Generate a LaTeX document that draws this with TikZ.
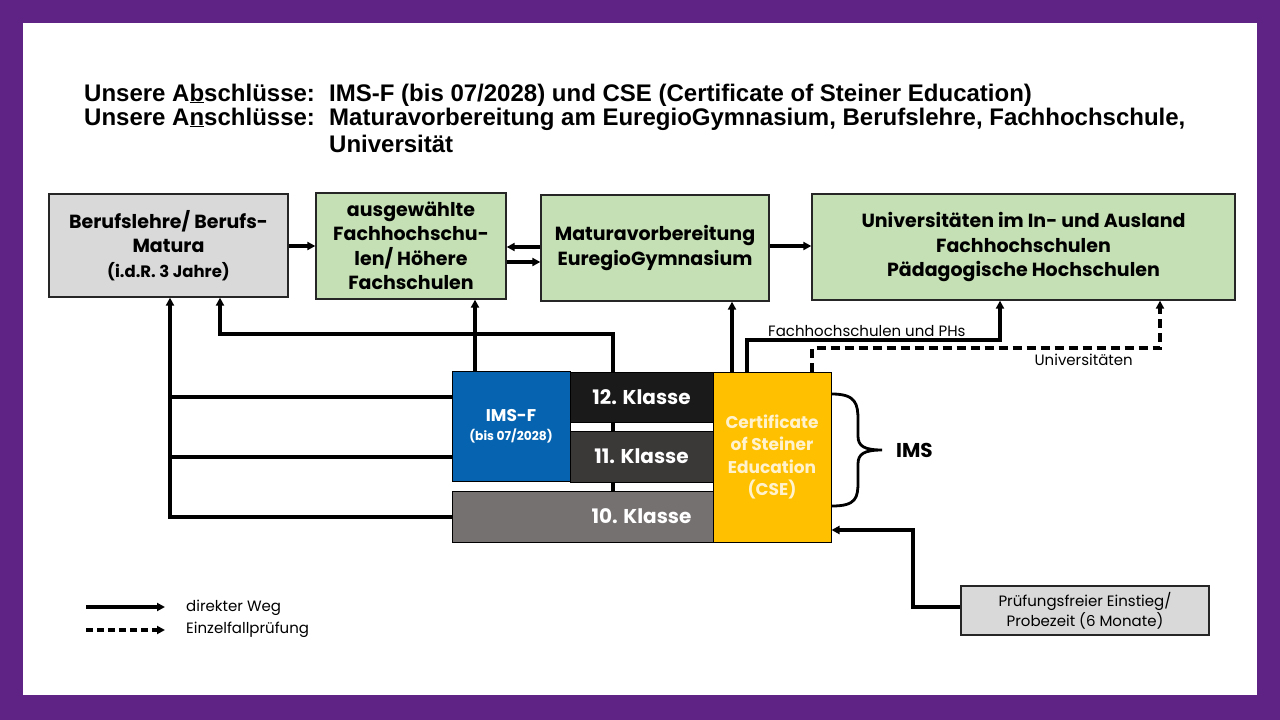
\documentclass[tikz,border=0pt]{standalone}
\usepackage{fontspec}
\setmainfont{Liberation Sans}
\newfontfamily\cg{Poppins}
\usetikzlibrary{arrows.meta}
\definecolor{purp}{HTML}{5E2384}
\definecolor{lgray}{HTML}{D9D9D9}
\definecolor{lgreen}{HTML}{C5E0B4}
\definecolor{imsblue}{HTML}{0563B0}
\definecolor{k12}{HTML}{1A1A1A}
\definecolor{k11}{HTML}{3B3838}
\definecolor{k10}{HTML}{767171}
\definecolor{cse}{HTML}{FFC000}
\definecolor{csetext}{HTML}{FFF2CC}
\tikzset{
  box/.style={draw=black!85, line width=1.3pt, inner sep=0pt, align=center,
    font=\cg\bfseries\fontsize{19}{24.5}\selectfont},
  graybox/.style={box, fill=lgray},
  greenbox/.style={box, fill=lgreen},
  klasse/.style={draw=black, line width=1pt, inner sep=0pt, text=white,
    font=\cg\bfseries\fontsize{20}{22}\selectfont},
  klassetxt/.style={inner sep=0pt, text=white, font=\cg\bfseries\fontsize{20}{22}\selectfont},
  arr/.style={line width=3.2pt, -{Triangle[length=8pt,width=8pt]}},
  ln/.style={line width=3.2pt},
  smalltxt/.style={font=\cg\fontsize{15}{20}\selectfont, inner sep=0pt},
  head/.style={font=\bfseries\fontsize{24}{24}\selectfont, anchor=base west, inner sep=0pt}
}
\begin{document}
\begin{tikzpicture}[x=1pt,y=-1pt]
\useasboundingbox (0,0) rectangle (1280,720);
\fill[purp] (0,0) rectangle (1280,720);
\fill[white] (23,23) rectangle (1257,695);

% header
\node[head] (h1) at (84,101) {Unsere A\underline{b}schlüsse:};
\node[head] (h1b) at (329,101) {IMS-F (bis 07/2028) und CSE (Certificate of Steiner Education)};
\node[head] (h2) at (84,125) {Unsere A\underline{n}schlüsse:};
\node[head] (h2b) at (329,125) {Maturavorbereitung am EuregioGymnasium, Berufslehre, Fachhochschule,};
\node[head] (h3) at (329,152) {Universität};

% top boxes
\node[graybox, minimum width=239pt, minimum height=103pt] (beruf) at (168.5,245.5)
  {Berufslehre/ Berufs-\\Matura\\{\fontsize{16.5}{20}\selectfont (i.d.R. 3 Jahre)}};
\node[greenbox, minimum width=190pt, minimum height=106pt] (ausg) at (411,246)
  {ausgewählte\\Fachhochschu-\\len/ Höhere\\Fachschulen};
\node[greenbox, minimum width=228pt, minimum height=106pt] (matura) at (655,248)
  {Maturavorbereitung\\EuregioGymnasium};
\node[greenbox, minimum width=423pt, minimum height=106pt] (uni) at (1023.5,247)
  {Universitäten im In- und Ausland\\Fachhochschulen\\Pädagogische Hochschulen};

% class blocks
\node[klasse, fill=imsblue, minimum width=118pt, minimum height=110pt, align=center] (imsf) at (511,426.5)
  {\fontsize{17}{20}\selectfont IMS-F\\[-3pt]{\fontsize{12.3}{14}\selectfont (bis 07/2028)}};
\node[klasse, fill=k12, minimum width=143pt, minimum height=50pt] (k12) at (641.5,397) {12. Klasse};
\node[klasse, fill=k11, minimum width=143pt, minimum height=51pt] (k11) at (641.5,456.5) {11. Klasse};
\node[klasse, fill=k10, minimum width=261pt, minimum height=51pt] (k10) at (582.5,516.5) {};
\node[klassetxt] (k10t) at (641.5,516.5) {10. Klasse};
\node[klasse, fill=cse, text=csetext, minimum width=118pt, minimum height=170pt, align=center,
  font=\cg\bfseries\fontsize{17}{22.6}\selectfont] (cse) at (772,457)
  {Certificate\\of Steiner\\Education\\(CSE)};

% brace and IMS
\draw[line width=2.8pt] (832,394) .. controls (856,394) and (858,404) .. (858,420)
  -- (858,436) .. controls (858,446) and (864,450) .. (882,450)
  .. controls (864,450) and (858,454) .. (858,464)
  -- (858,482) .. controls (858,498) and (856,506) .. (832,506);
\node[font=\cg\bfseries\fontsize{20}{22}\selectfont, anchor=west, inner sep=0pt] (ims) at (896,450) {IMS};

% helper coordinates
\coordinate (y246) at (0,246);
\coordinate (y247) at (0,247);
\coordinate (y262) at (0,262);
\coordinate (x170) at (170,0);
\coordinate (x220) at (220,0);
\coordinate (x475) at (475,0);
\coordinate (x613) at (613,0);
\coordinate (x732) at (732,0);
\coordinate (x747) at (747,0);
\coordinate (x812) at (812,0);
\coordinate (x1000) at (1000,0);
\coordinate (x1160) at (1160,0);
\coordinate (c1) at (220,334);
\coordinate (c2) at (613,334);
\coordinate (c3) at (747,340);
\coordinate (c4) at (1000,340);
\coordinate (c5) at (812,348);
\coordinate (c6) at (1160,348);
\coordinate (c7) at (170,517);
\coordinate (c8) at (170,397);
\coordinate (c9) at (170,457);
\coordinate (c10) at (913,607);
\coordinate (c11) at (913,530);
\coordinate (y530) at (0,530);

% top row arrows
\draw[arr] (beruf.east |- y246) -- (ausg.west |- y246);
\draw[arr] (matura.west |- y247) -- (ausg.east |- y247);
\draw[arr] (ausg.east |- y262) -- (matura.west |- y262);
\draw[arr] (matura.east |- y246) -- (uni.west |- y246);

% from classes upward
\draw[arr] (imsf.north -| x475) -- (ausg.south -| x475);
\draw[arr] (k12.north -| x613) -- (c2) -- (c1) -- (beruf.south -| x220);
\draw[ln] (k11.north -| x613) -- (k12.south -| x613);
\draw[ln] (k10.north -| x613) -- (k11.south -| x613);
\draw[arr] (cse.north -| x732) -- (matura.south -| x732);
\draw[arr] (cse.north -| x747) -- (c3) -- (c4) -- (uni.south -| x1000);
\draw[arr, dash pattern=on 9pt off 5pt] (cse.north -| x812) -- (c5) -- (c6) -- (uni.south -| x1160);
\node[smalltxt, anchor=south west] (lfh) at (768,337) {Fachhochschulen und PHs};
\node[smalltxt, anchor=north east] (luni) at (1133,354) {Universitäten};

% left side
\draw[arr] (k10.west |- c7) -- (c7) -- (beruf.south -| x170);
\draw[ln] (imsf.west |- c8) -- (c8);
\draw[ln] (imsf.west |- c9) -- (c9);

% Prüfungsfreier Einstieg
\node[draw=black!85, line width=1.3pt, fill=lgray, minimum width=248pt, minimum height=49pt, inner sep=0pt,
  align=center, font=\cg\fontsize{15}{20}\selectfont] (pf) at (1085,610.5)
  {Prüfungsfreier Einstieg/\\Probezeit (6 Monate)};
\draw[arr] (pf.west |- c10) -- (c10) -- (c11) -- (cse.east |- y530);

% legend
\coordinate (la1) at (86,607);
\coordinate (la2) at (165,607);
\coordinate (lb1) at (86,630);
\coordinate (lb2) at (165,630);
\draw[arr] (la1) -- (la2);
\draw[arr, dash pattern=on 7pt off 4pt] (lb1) -- (lb2);
\node[smalltxt, anchor=west] (lg1) at (186,608) {direkter Weg};
\node[smalltxt, anchor=west] (lg2) at (186,630) {Einzelfallprüfung};
\end{tikzpicture}
\end{document}
